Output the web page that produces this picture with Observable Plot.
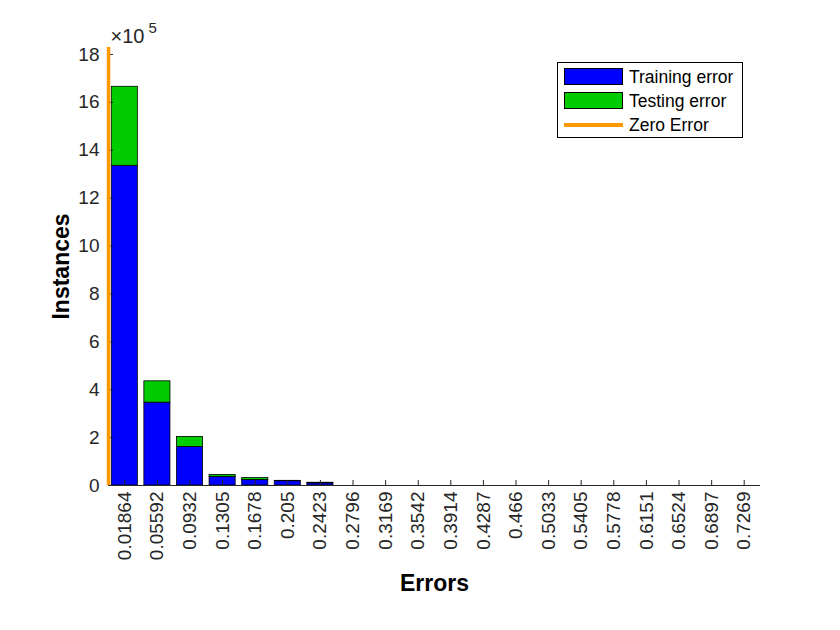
<!DOCTYPE html>
<html>
<head>
<meta charset="utf-8">
<script src="https://cdn.jsdelivr.net/npm/d3@7"></script>
<script src="https://cdn.jsdelivr.net/npm/@observablehq/plot@0.6"></script>
<style>
  html, body { margin: 0; padding: 0; background: #ffffff; }
  #wrap { position: relative; width: 840px; height: 630px; font-family: "Liberation Sans", Arial, sans-serif; }
  #legend { position: absolute; left: 557px; top: 62px; width: 186px; height: 76px; border: 1px solid #000; background: #fff; box-sizing: border-box; }
  .li { position: absolute; left: 0; font-size: 17.5px; color: #000; }
  .sw { position: absolute; left: 6px; width: 59px; height: 17px; box-sizing: border-box; border: 1px solid #000; }
  .ln { position: absolute; left: 6px; width: 59px; height: 3.5px; }
  .lt { position: absolute; left: 71px; white-space: nowrap; line-height: 18px; }
</style>
</head>
<body>
<div id="wrap"></div>
<script>
// ---- data ----
const binLabels = ["0.01864","0.05592","0.0932","0.1305","0.1678","0.205","0.2423","0.2796","0.3169","0.3542",
                   "0.3914","0.4287","0.466","0.5033","0.5405","0.5778","0.6151","0.6524","0.6897","0.7269"];
const trainCounts = [1335000, 346000, 161000, 36000, 23000, 18000, 9000, 0, 0, 0, 0, 0, 0, 0, 0, 0, 0, 0, 0, 0];
const testCounts  = [ 330000,  89000,  42000,  8000,  8000,  1500, 2500, 0, 0, 0, 0, 0, 0, 0, 0, 0, 0, 0, 0, 0];
const yTicks = [0, 2, 4, 6, 8, 10, 12, 14, 16, 18];   // ×10^5
const yExponent = 5;
const seriesNames = ["Training error", "Testing error", "Zero Error"];
const seriesColors = ["#0000ff", "#00cc00", "#ff9900"];

// ---- derived ----
const centers = binLabels.map(Number);
const binW = centers[1] - centers[0];
const barW = 0.8 * binW;
const scaleK = Math.pow(10, yExponent);
const rows = centers.map((c, i) => ({c, train: trainCounts[i], test: testCounts[i]}));
const xMax = centers[centers.length - 1] + binW / 2;
const yMax = 18.29 * scaleK;

const font = "Liberation Sans, Arial, sans-serif";

const chart = Plot.plot({
  width: 840,
  height: 630,
  marginLeft: 108,
  marginRight: 80,
  marginTop: 47,
  marginBottom: 145,
  style: {background: "#ffffff", fontFamily: font, color: "#262626"},
  x: {domain: [0, xMax]},
  y: {domain: [0, yMax]},
  marks: [
    Plot.rect(rows.filter(d => d.train > 0), {
      x1: d => d.c - barW / 2, x2: d => d.c + barW / 2,
      y1: 0, y2: d => d.train,
      fill: seriesColors[0], stroke: "#000", strokeWidth: 0.8
    }),
    Plot.rect(rows.filter(d => d.test > 0), {
      x1: d => d.c - barW / 2, x2: d => d.c + barW / 2,
      y1: d => d.train, y2: d => d.train + d.test,
      fill: seriesColors[1], stroke: "#000", strokeWidth: 0.8
    }),
    Plot.ruleY([0], {stroke: "#262626", strokeWidth: 1}),
    Plot.axisX({
      ticks: centers,
      tickFormat: (d, i) => binLabels[i],
      tickRotate: -90,
      tickSize: -5,
      tickPadding: 11,
      fontSize: 19,
      label: null,
      stroke: "#262626"
    }),
    Plot.axisY({
      ticks: yTicks.map(t => t * scaleK),
      tickFormat: d => String(d / scaleK),
      tickSize: -5,
      tickPadding: 14,
      fontSize: 19,
      label: null,
      stroke: "#262626"
    }),
    Plot.ruleX([0], {stroke: seriesColors[2], strokeWidth: 3.5}),
    Plot.text(["Instances"], {frameAnchor: "left", textAnchor: "middle", lineAnchor: "middle", dx: -47, rotate: -90, fontSize: 23, fontWeight: "bold", fill: "#000"}),
    Plot.text(["Errors"], {frameAnchor: "bottom", textAnchor: "middle", lineAnchor: "middle", dy: 98, fontSize: 23, fontWeight: "bold", fill: "#000"}),
    Plot.text(["\u00d710"], {frameAnchor: "top-left", textAnchor: "start", lineAnchor: "bottom", dx: 2, dy: -5, fontSize: 20, fill: "#262626"}),
    Plot.text([String(yExponent)], {frameAnchor: "top-left", textAnchor: "start", lineAnchor: "bottom", dx: 40, dy: -15, fontSize: 15, fill: "#262626"})
  ]
});

const wrap = document.getElementById("wrap");
wrap.appendChild(chart);

// legend
const lg = document.createElement("div");
lg.id = "legend";
const tops = [5, 29, 53];
seriesNames.forEach((name, i) => {
  const item = document.createElement("div");
  item.className = "li";
  item.style.top = tops[i] + "px";
  item.style.width = "100%";
  if (i < 2) {
    const sw = document.createElement("div");
    sw.className = "sw";
    sw.style.top = "0px";
    sw.style.background = seriesColors[i];
    item.appendChild(sw);
  } else {
    const ln = document.createElement("div");
    ln.className = "ln";
    ln.style.top = "7px";
    ln.style.background = seriesColors[i];
    item.appendChild(ln);
  }
  const t = document.createElement("div");
  t.className = "lt";
  t.style.top = "0px";
  t.textContent = name;
  item.appendChild(t);
  lg.appendChild(item);
});
wrap.appendChild(lg);
</script>
</body>
</html>
